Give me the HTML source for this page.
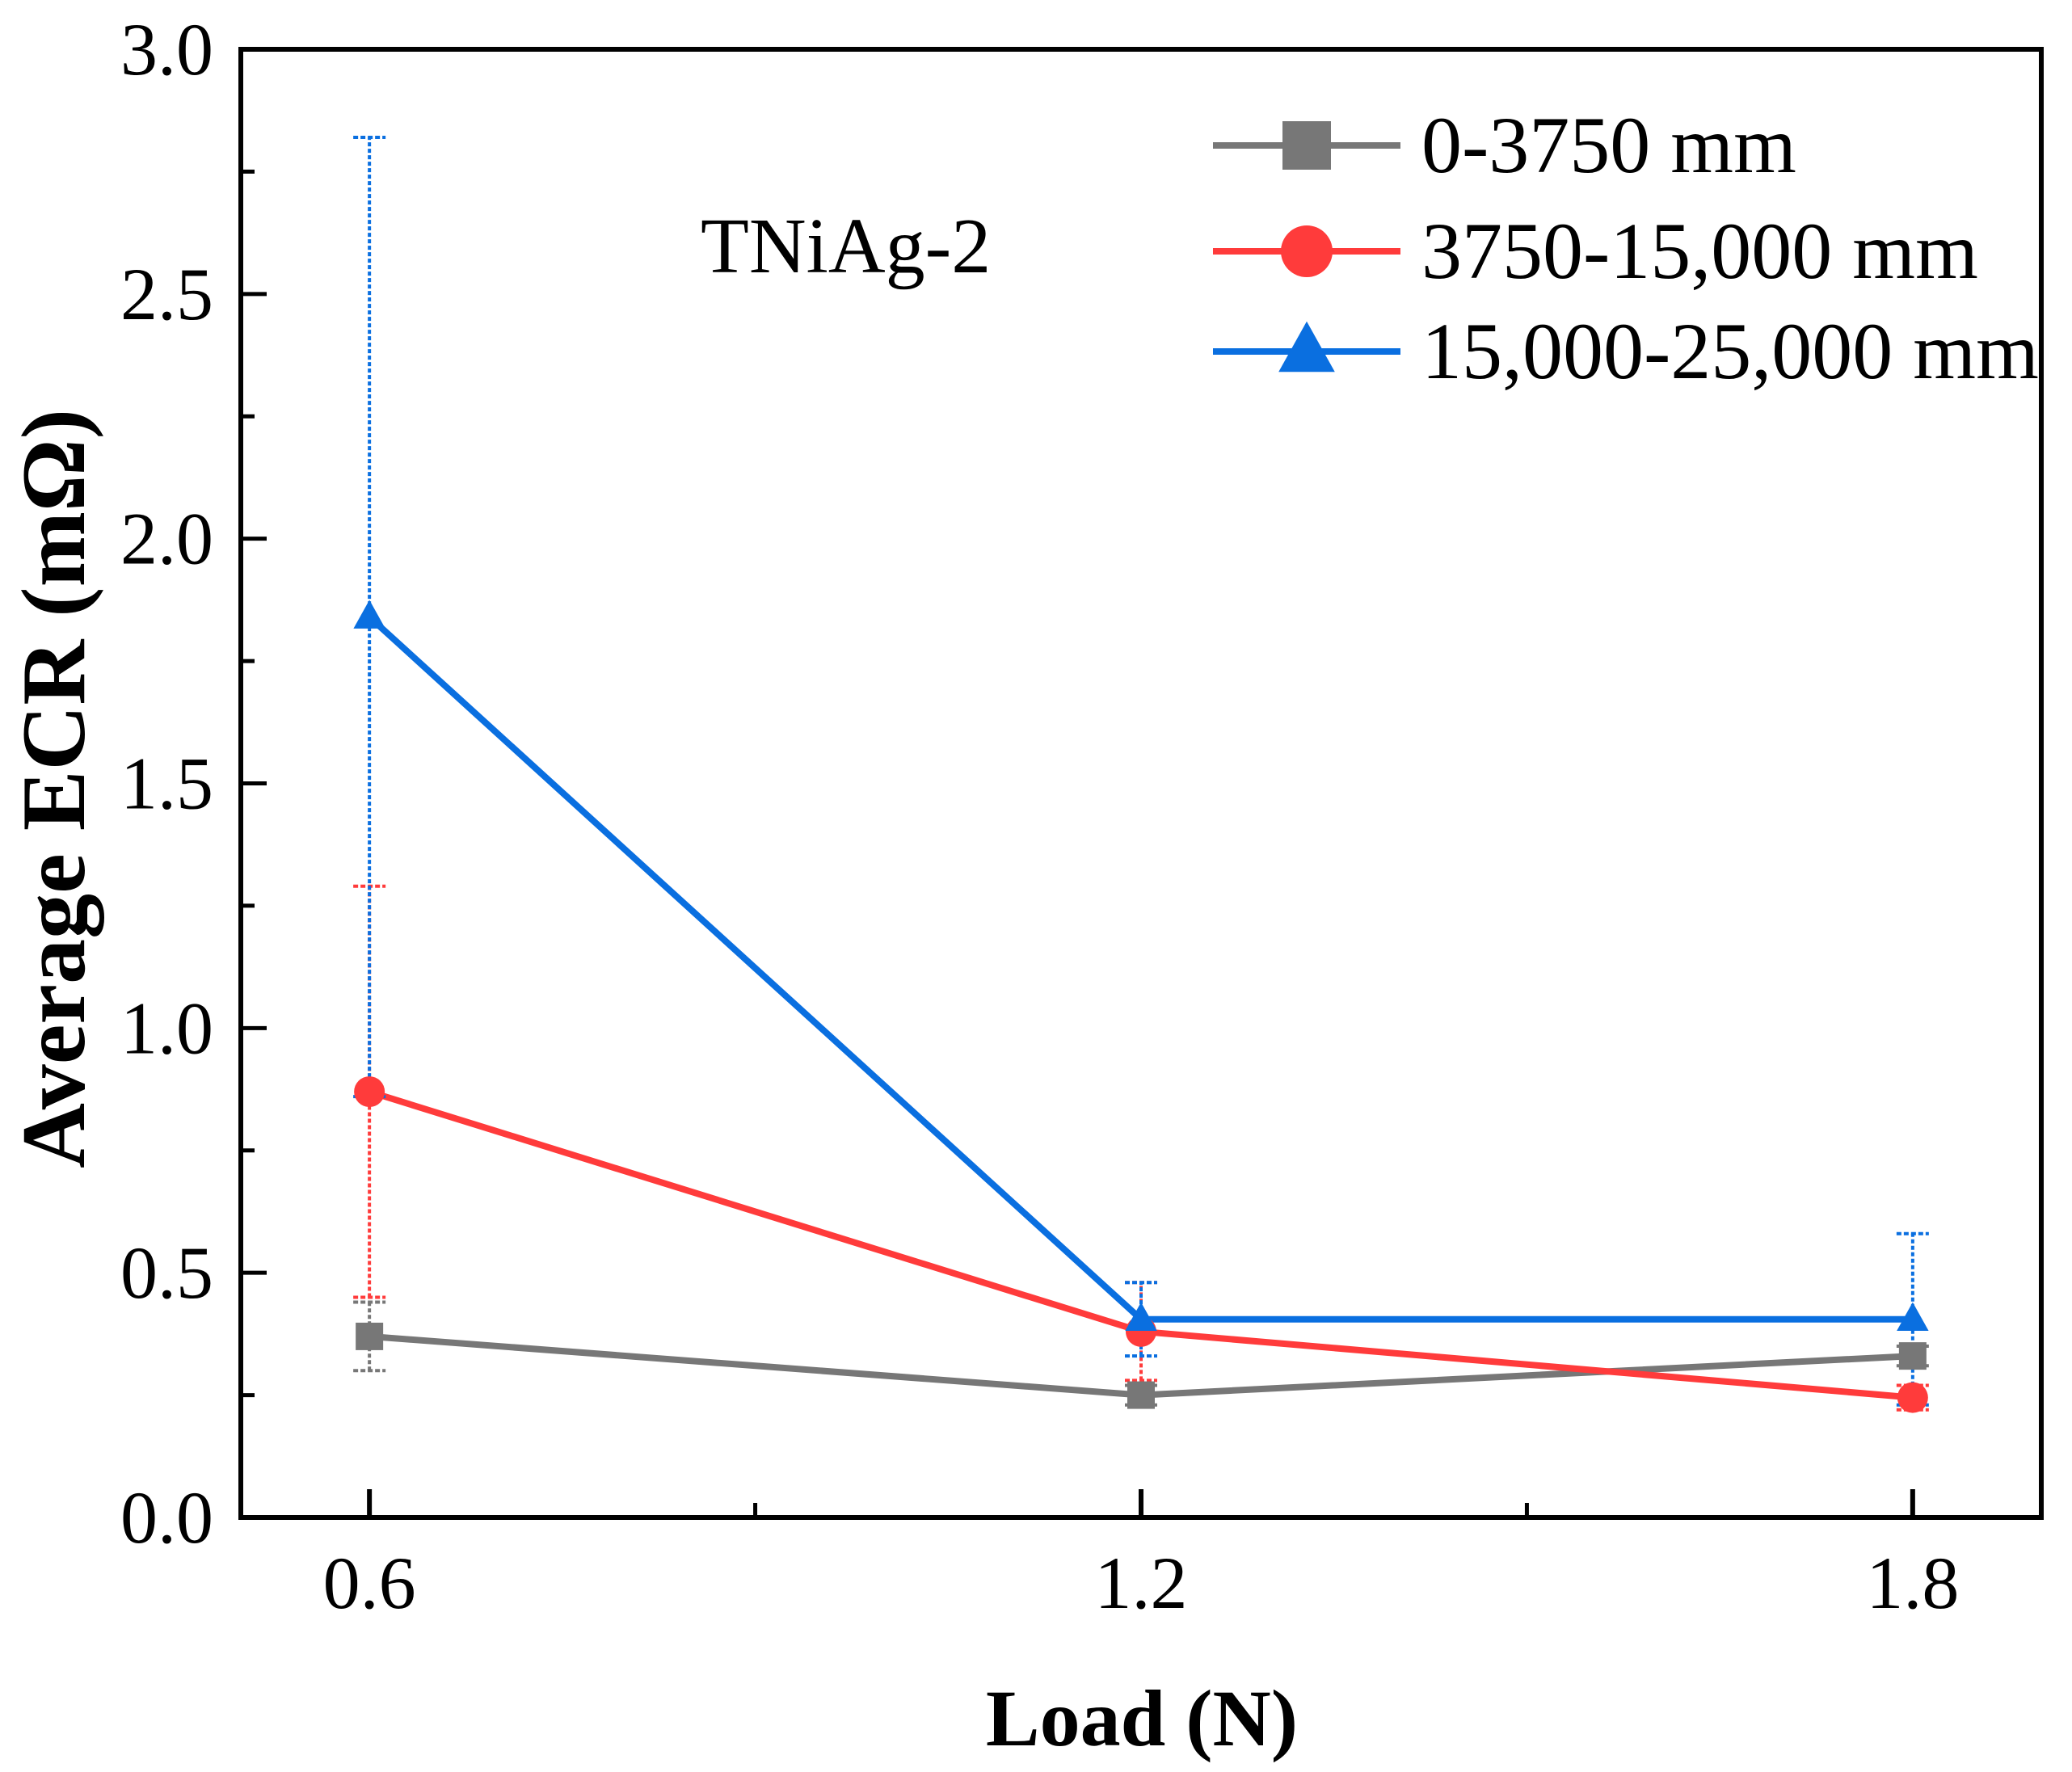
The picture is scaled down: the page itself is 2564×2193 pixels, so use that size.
<!DOCTYPE html>
<html><head><meta charset="utf-8"><style>
html,body{margin:0;padding:0;background:#fff}
svg{display:block}
text{font-family:"Liberation Serif",serif;fill:#000}
</style></head><body>
<svg id="chart" width="2564" height="2193" viewBox="0 0 2564 2193">
<g id="plot"></g>
</svg>
<script>
const categories=[0.6,1.2,1.8];
const xTicksMinor=[0.9,1.5];
const yTicks=[0,0.5,1.0,1.5,2.0,2.5,3.0];
const yTickLabels=["0.0","0.5","1.0","1.5","2.0","2.5","3.0"];
const seriesNames=["0-3750 mm","3750-15,000 mm","15,000-25,000 mm"];
const grayVals=[0.37,0.25,0.33];
const grayLo=[0.30,0.23,0.31];
const grayHi=[0.44,0.27,0.35];
const redVals=[0.87,0.38,0.245];
const redLo=[0.45,0.28,0.22];
const redHi=[1.29,0.48,0.27];
const blueVals=[1.84,0.405,0.405];
const blueLo=[0.86,0.33,0.23];
const blueHi=[2.82,0.48,0.58];

const L=298,R=2526,T=61,B=1878;
const x=v=>L+(v-0.5)/(1.9-0.5)*(R-L);
const y=v=>B-(v/3)*(B-T);
const NS="http://www.w3.org/2000/svg";
const g=document.getElementById('plot');
function mk(tag,attrs,parent){const e=document.createElementNS(NS,tag);for(const k in attrs)e.setAttribute(k,attrs[k]);(parent||g).appendChild(e);return e;}

yTicks.forEach((v,i)=>{
  const t=mk('line',{x1:L,x2:L+32,y1:y(v),y2:y(v),stroke:'#000','stroke-width':5});
  
  
  if(i<yTicks.length-1){const m=mk('line',{x1:L,x2:L+17,y1:y(v+0.25),y2:y(v+0.25),stroke:'#000','stroke-width':5});
  
  }
  const lb=mk('text',{x:264,y:y(v)+31,'text-anchor':'end','font-size':92});
  lb.textContent=yTickLabels[i];
  
  
});
categories.forEach(v=>{
  const t=mk('line',{x1:x(v),x2:x(v),y1:B,y2:B-35,stroke:'#000','stroke-width':6});
  
  
  const lb=mk('text',{x:x(v),y:1990,'text-anchor':'middle','font-size':92});
  lb.textContent=String(v);
  
  
});
xTicksMinor.forEach(v=>{
  const t=mk('line',{x1:x(v),x2:x(v),y1:B,y2:B-18,stroke:'#000','stroke-width':5});
  
  
});

const series=[
 {vals:grayVals,lo:grayLo,hi:grayHi,color:'#777777',m:'square',name:'gray'},
 {vals:redVals,lo:redLo,hi:redHi,color:'#ff3b3b',m:'circle',name:'red'},
 {vals:blueVals,lo:blueLo,hi:blueHi,color:'#0a6fe0',m:'triangle',name:'blue'}
];
function marker(type,cx,cy,color,s){
  let e;
  if(type==='square')e=mk('rect',{x:cx-s/2,y:cy-s/2,width:s,height:s,fill:color});
  else if(type==='circle')e=mk('circle',{cx:cx,cy:cy,r:s/2+2,fill:color});
  else e=mk('polygon',{points:`${cx},${cy-s*0.62} ${cx-s*0.58},${cy+s*0.42} ${cx+s*0.58},${cy+s*0.42}`,fill:color});
  return e;
}
series.forEach(s=>{
  categories.forEach((c,i)=>{
    const eb=mk('line',{x1:x(c),x2:x(c),y1:y(s.lo[i]),y2:y(s.hi[i]),stroke:s.color,'stroke-width':4,'stroke-dasharray':'5 3'});
    
    
    [s.lo[i],s.hi[i]].forEach(v=>{
      const cap=mk('line',{x1:x(c)-20,x2:x(c)+20,y1:y(v),y2:y(v),stroke:s.color,'stroke-width':4,'stroke-dasharray':'6 3'});
      
      
    });
  });
  const pts=categories.map((c,i)=>x(c)+','+y(s.vals[i])).join(' ');
  const pl=mk('polyline',{points:pts,fill:'none',stroke:s.color,'stroke-width':8});
  
  
});
series.forEach(s=>{
  categories.forEach((c,i)=>{
    const mm=marker(s.m,x(c),y(s.vals[i]),s.color,34);
    
    
  });
});

const fr=mk('rect',{x:L,y:T,width:R-L,height:B-T,fill:'none',stroke:'#000','stroke-width':6});



const ly=[180,311,435];
series.forEach((s,i)=>{
  const ln=mk('line',{x1:1501,x2:1733,y1:ly[i],y2:ly[i],stroke:s.color,'stroke-width':8});
  
  
  const mm=marker(s.m,1617,ly[i],s.color,60);
  
  
  const tx=mk('text',{x:1759,y:ly[i]+33,'font-size':100});
  tx.textContent=seriesNames[i];
  
  
});
const an=mk('text',{x:867,y:337,'font-size':98});
an.textContent='TNiAg-2';



const xt=mk('text',{x:1413,y:2160,'text-anchor':'middle','font-size':100,'font-weight':'bold'});
xt.textContent='Load (N)';


const yt=mk('text',{x:0,y:0,'text-anchor':'middle','font-size':112,'font-weight':'bold',transform:'translate(104,976) rotate(-90)'});
yt.textContent='Average ECR (mΩ)';


</script>
</body></html>
